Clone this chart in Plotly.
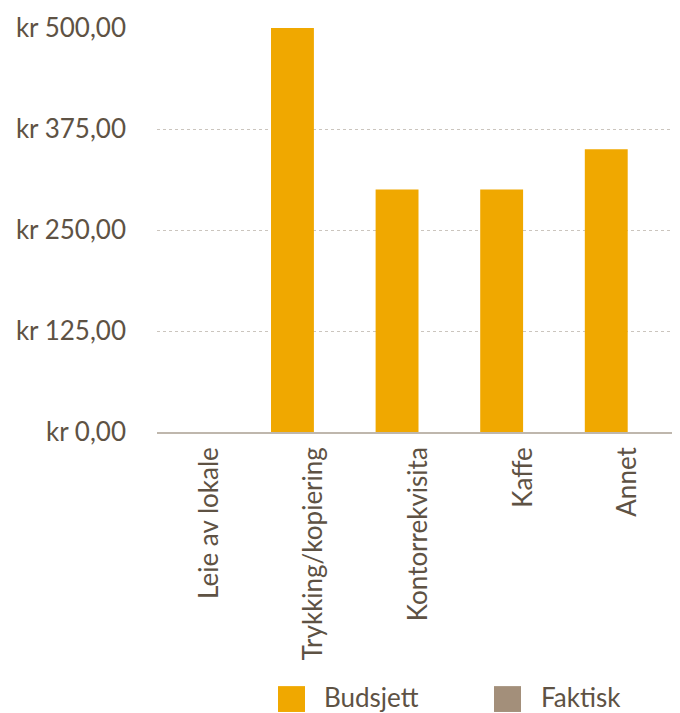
import plotly.graph_objects as go

categories = ["Leie av lokale", "Trykking/kopiering", "Kontorrekvisita", "Kaffe", "Annet"]
budsjett = [0, 500, 300, 300, 350]
faktisk = [0, 0, 0, 0, 0]
y_tickvals = [0, 125, 250, 375, 500]
y_ticktext = ["kr 0,00", "kr 125,00", "kr 250,00", "kr 375,00", "kr 500,00"]
series_names = ["Budsjett", "Faktisk"]
series_colors = ["#F0A800", "#A38F7A"]

TEXT = "#5E5244"
FONT = "Lato"

fig = go.Figure()
fig.add_trace(go.Bar(x=categories, y=budsjett, name=series_names[0],
                     marker=dict(color=series_colors[0], line=dict(width=0))))
fig.add_trace(go.Bar(x=categories, y=faktisk, name=series_names[1],
                     marker=dict(color=series_colors[1], line=dict(width=0))))

# Manual legend (large squares)
leg_y0, leg_y1 = -0.629, -0.693
sq = [(0.2314, 0.2830), (0.6444, 0.6960)]
tx = [0.3155, 0.7304]
for i, name in enumerate(series_names):
    fig.add_shape(type="rect", xref="paper", yref="paper",
                  x0=sq[i][0], x1=sq[i][1], y0=leg_y1, y1=leg_y0,
                  fillcolor=series_colors[i], line=dict(width=0))
    fig.add_annotation(xref="paper", yref="paper", x=tx[i], y=-0.655,
                       text=name, showarrow=False, xanchor="left", yanchor="middle",
                       font=dict(family=FONT, size=26, color=TEXT))

fig.update_layout(
    width=672, height=705,
    margin=dict(l=149, r=0, t=20, b=281),
    paper_bgcolor="white", plot_bgcolor="white",
    barmode="group", bargap=0.18, bargroupgap=0,
    showlegend=False,
    font=dict(family=FONT, size=26, color=TEXT),
)
fig.update_xaxes(
    tickangle=-90, showgrid=False, showline=True, linecolor="#BFB7AD", linewidth=1.5,
    ticks="", ticklabelstandoff=3, tickfont=dict(family=FONT, size=26, color=TEXT),
)
fig.update_yaxes(
    range=[0, 500], tickvals=y_tickvals, ticktext=y_ticktext,
    showgrid=True, gridcolor="#CBC5BE", griddash="dot", gridwidth=1,
    zeroline=False, showline=False, ticks="", ticklabelstandoff=30,
    tickfont=dict(family=FONT, size=26, color=TEXT),
)

fig.write_html("out.html")
